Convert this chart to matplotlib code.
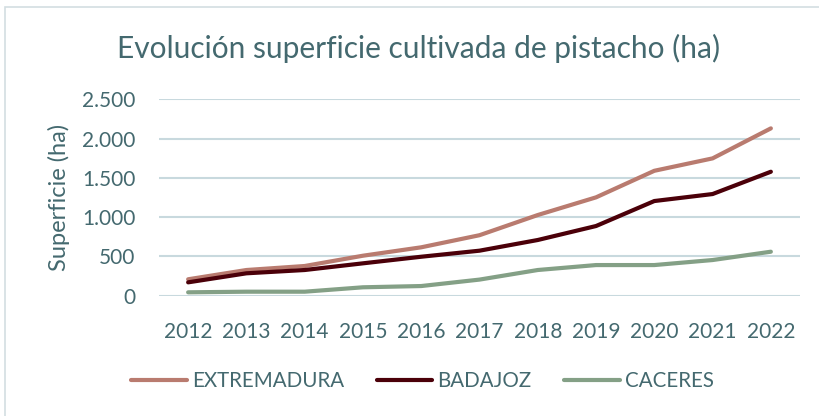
import matplotlib
matplotlib.use("Agg")
import matplotlib.pyplot as plt
from matplotlib.patches import Rectangle

# datos (ha)
anios = ["2012", "2013", "2014", "2015", "2016", "2017", "2018", "2019", "2020", "2021", "2022"]
extremadura = [209, 327, 378, 509, 616, 770, 1027, 1252, 1590, 1748, 2130]
badajoz = [170, 285, 327, 412, 496, 573, 709, 887, 1205, 1294, 1578]
caceres = [43, 51, 51, 107, 123, 205, 327, 390, 390, 454, 560]
yticks = [0, 500, 1000, 1500, 2000, 2500]
ytick_labels = ["0", "500", "1.000", "1.500", "2.000", "2.500"]

txt = "#44696F"
plt.rcParams["font.family"] = ["Lato", "DejaVu Sans"]

fig = plt.figure(figsize=(8.19, 4.16), dpi=100)
fig.patches.append(Rectangle((5 / 819, -0.1), 1.2, 1 - 7 / 416 + 0.1, transform=fig.transFigure,
                             fill=False, edgecolor="#D3DEE2", linewidth=1.2))

ax = fig.add_axes([159 / 819, 1 - 295.7 / 416, (800 - 159) / 819, (295.7 - 99.3) / 416])
x = list(range(len(anios)))
ax.plot(x, extremadura, color="#B97B6F", lw=3, label="EXTREMADURA", solid_capstyle="round")
ax.plot(x, badajoz, color="#4B0009", lw=3, label="BADAJOZ", solid_capstyle="round")
ax.plot(x, caceres, color="#84A086", lw=3, label="CACERES", solid_capstyle="round")

ax.set_xlim(-0.5, len(anios) - 0.5)
ax.set_ylim(0, 2500)
ax.set_yticks(yticks)
ax.set_yticklabels(ytick_labels)
ax.set_xticks(x)
ax.set_xticklabels(anios)
ax.tick_params(length=0, labelsize=15, colors=txt)
ax.tick_params(axis="y", pad=17)
ax.tick_params(axis="x", pad=19)
ax.yaxis.grid(True, color="#C8D9DE", lw=1.5)
ax.set_axisbelow(True)
for s in ax.spines.values():
    s.set_visible(False)
ax.set_ylabel("Superficie (ha)", fontsize=17, color=txt, labelpad=9)

fig.text(0.511, 1 - 48 / 416, "Evolución superficie cultivada de pistacho (ha)",
         ha="center", va="center", fontsize=21.5, color=txt)

fig.legend(loc="center", bbox_to_anchor=(0.516, 1 - 381 / 416), ncol=3, frameon=False,
           fontsize=14.8, labelcolor=txt, handlelength=2.7, handletextpad=0.25, columnspacing=1.6)

fig.savefig("out.png", dpi=100)
